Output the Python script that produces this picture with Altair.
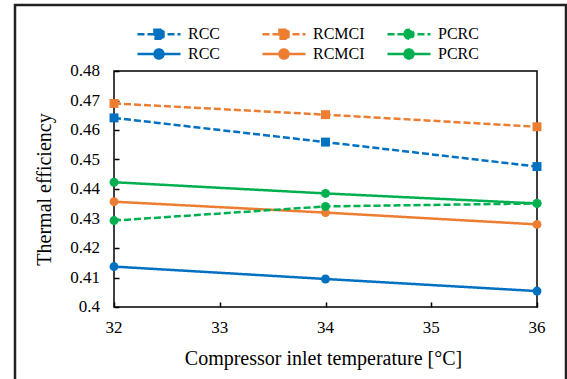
import altair as alt
import pandas as pd

temps = [32, 34, 36]
rcc_dashed = [0.4641, 0.4559, 0.4476]
rcmci_dashed = [0.4690, 0.4652, 0.4611]
pcrc_dashed = [0.4293, 0.4341, 0.4351]
rcc_solid = [0.4137, 0.4095, 0.4054]
rcmci_solid = [0.4357, 0.4320, 0.4280]
pcrc_solid = [0.4423, 0.4385, 0.4351]

# legend fills column by column: RCC pair, RCMCI pair, PCRC pair
series_names = ["RCC|d", "RCC|s", "RCMCI|d", "RCMCI|s", "PCRC|d", "PCRC|s"]
series_values = [rcc_dashed, rcc_solid, rcmci_dashed, rcmci_solid, pcrc_dashed, pcrc_solid]
series_markers = ["square", "circle", "square", "circle", "circle", "circle"]
colors = ["#0070C0", "#0070C0", "#ED7D31", "#ED7D31", "#00B050", "#00B050"]
dashes = [[7, 3], [1, 0], [7, 3], [1, 0], [7, 3], [1, 0]]

x_ticks = [32, 33, 34, 35, 36]
y_ticks = [0.40, 0.41, 0.42, 0.43, 0.44, 0.45, 0.46, 0.47, 0.48]

rows = []
for name, vals, mk in zip(series_names, series_values, series_markers):
    for t, v in zip(temps, vals):
        rows.append({"temp": t, "eff": v, "series": name, "marker": mk})
df = pd.DataFrame(rows)

# legend symbols: line + marker drawn as one custom path
sq = "M-4.3,0H4.3M-0.9,-0.9H0.9V0.9H-0.9Z"
ci = "M-4.3,0H4.3M-0.9,0A0.9,0.9 0 1,0 0.9,0A0.9,0.9 0 1,0 -0.9,0Z"
legend_paths = [sq, ci, sq, ci, ci, ci]

FONT = "Liberation Serif"

xs = alt.Scale(domain=[32, 36], nice=False)
ys = alt.Scale(domain=[0.40, 0.48], nice=False, zero=False)
stroke_scale = alt.Scale(domain=series_names, range=colors)
fill_scale = alt.Scale(domain=series_names, range=colors)
dash_scale = alt.Scale(domain=series_names, range=dashes)
shape_scale = alt.Scale(domain=series_names, range=legend_paths)

x_axis = alt.Axis(
    values=x_ticks, labels=False, title="Compressor inlet temperature [°C]",
    offset=-5, tickSize=5, tickWidth=1.5, tickColor="black", domain=False, grid=False,
    titleFont=FONT, titleFontSize=20, titleColor="black", titleFontWeight="normal",
    titleX=209, titleY=56, titleBaseline="middle", titleAlign="center")
y_axis = alt.Axis(
    values=y_ticks, labels=False, title="Thermal efficiency",
    offset=-5, tickSize=5, tickWidth=1.5, tickColor="black", domain=False, grid=False,
    titleFont=FONT, titleFontSize=20, titleColor="black", titleFontWeight="normal",
    titleX=-75, titleY=118, titleBaseline="middle", titleAlign="center")

leg = alt.Legend(
    title=None, orient="none", legendX=37, legendY=-45, columns=3,
    gridAlign="all", columnPadding=17, rowPadding=0, labelOffset=21,
    labelExpr="split(datum.label, '|')[0]", symbolStrokeWidth=2.5,
    labelFont=FONT, labelFontSize=16, labelColor="black", padding=0,
    symbolSize=100, symbolOpacity=1,
)

base = alt.Chart(df).encode(
    x=alt.X("temp:Q", scale=xs, axis=x_axis),
    y=alt.Y("eff:Q", scale=ys, axis=y_axis),
)

# legend-only layer: no rows survive the filter, the legend comes from the scale domain
legend_layer = base.transform_filter("datum.temp > 1000").mark_point(filled=True).encode(
    fill=alt.Fill("series:N", scale=fill_scale, legend=leg),
    stroke=alt.Stroke("series:N", scale=stroke_scale, legend=leg),
    strokeDash=alt.StrokeDash("series:N", scale=dash_scale, legend=leg),
    shape=alt.Shape("series:N", scale=shape_scale, legend=leg),
)

lines = base.mark_line(strokeWidth=2.5).encode(
    stroke=alt.Stroke("series:N", scale=stroke_scale, legend=leg),
    strokeDash=alt.StrokeDash("series:N", scale=dash_scale, legend=leg),
    detail="series:N",
)

points = base.mark_point(filled=True, size=80, opacity=1).encode(
    fill=alt.Fill("series:N", scale=fill_scale, legend=leg),
    shape=alt.Shape("marker:N", scale=None),
)

# tick labels as text placed through the same scales
xlab = alt.Chart(pd.DataFrame({"temp": x_ticks})).mark_text(
    font=FONT, fontSize=17, color="black", baseline="middle", align="center").encode(
    x=alt.X("temp:Q", scale=xs, axis=x_axis),
    y=alt.value(257),
    text=alt.Text("temp:Q", format="d"),
    size=alt.value(17),
)
ylab = alt.Chart(pd.DataFrame({"eff": y_ticks})).mark_text(
    font=FONT, fontSize=17, color="black", baseline="middle", align="right").encode(
    y=alt.Y("eff:Q", scale=ys, axis=y_axis),
    x=alt.value(-14),
    text=alt.Text("eff:Q", format="~g"),
    size=alt.value(17),
)

frame = alt.Chart(pd.DataFrame({"a": [0]})).mark_rect(
    fill=None, stroke="#222222", strokeWidth=2.5).encode(
    x=alt.value(-99), x2=alt.value(452), y=alt.value(-66), y2=alt.value(315))

chart = alt.layer(legend_layer, lines, points, xlab, ylab, frame).properties(
    width=423, height=236,
    autosize=alt.AutoSizeParams(type="none"),
    padding={"left": 114, "top": 71, "right": 30, "bottom": 72},
    background="white",
).configure_view(stroke="black", strokeWidth=1.5).configure_text(fontSize=17, font=FONT)

chart.save("out.html", embed_options={"renderer": "svg", "actions": False})
